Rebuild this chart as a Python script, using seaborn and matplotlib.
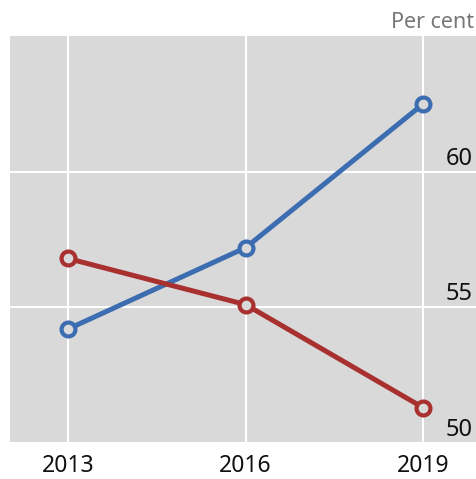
import matplotlib
matplotlib.use("Agg")
import matplotlib.pyplot as plt
import matplotlib.transforms as mtransforms
import seaborn as sns
import pandas as pd

years = [2013, 2016, 2019]
blue_values = [54.2, 57.2, 62.5]
red_values = [56.8, 55.1, 51.3]
y_ticks = [50, 55, 60]
x_tick_labels = ["2013", "2016", "2019"]
unit_label = "Per cent"

BG = "#d9d9d9"
BLUE = "#3c6db1"
RED = "#a8302f"

sns.set_theme(style="white")
plt.rcParams['font.family'] = ['Noto Sans', 'DejaVu Sans']

df = pd.DataFrame({
    "year": years * 2,
    "value": blue_values + red_values,
    "series": ["blue"] * len(years) + ["red"] * len(years),
})

fig = plt.figure(figsize=(4.77, 4.79), dpi=100)
ax = fig.add_axes([10 / 477, 36 / 479, 466 / 477, 407 / 479])
ax.set_facecolor(BG)

sns.lineplot(data=df, x="year", y="value", hue="series",
             palette={"blue": BLUE, "red": RED}, ax=ax, legend=False,
             linewidth=3.6, marker="o", markersize=10,
             markerfacecolor=BG, markeredgewidth=3, zorder=3)
for line, c in zip(ax.lines, [BLUE, RED]):
    line.set_markeredgecolor(c)
    line.set_markerfacecolor(BG)

ax.set_xlim(2012.02, 2019.89)
ax.set_ylim(50, 65)
ax.set_xticks(years)
ax.set_xticklabels(x_tick_labels, fontsize=16.5, color="#111111")
ax.set_yticks(y_ticks)
ax.set_yticklabels([])
ax.tick_params(axis="y", length=0)
ax.tick_params(axis="x", direction="in", length=16, width=1.5, color="#111111", pad=8)
ax.grid(True, color="white", linewidth=1.5)
ax.set_axisbelow(True)
for s in ax.spines.values():
    s.set_visible(False)
ax.set_xlabel("")
ax.set_ylabel("")

trans = mtransforms.blended_transform_factory(ax.transAxes, ax.transData)
for v in y_ticks:
    ax.text(0.992, v + 0.26, str(v), transform=trans, ha="right", va="baseline",
            fontsize=17, color="#111111")

fig.text(474 / 477, 1 - 22 / 479, unit_label, ha="right", va="center",
         fontsize=15.5, color="#777777")

fig.savefig("out.png", dpi=100, facecolor="white")
